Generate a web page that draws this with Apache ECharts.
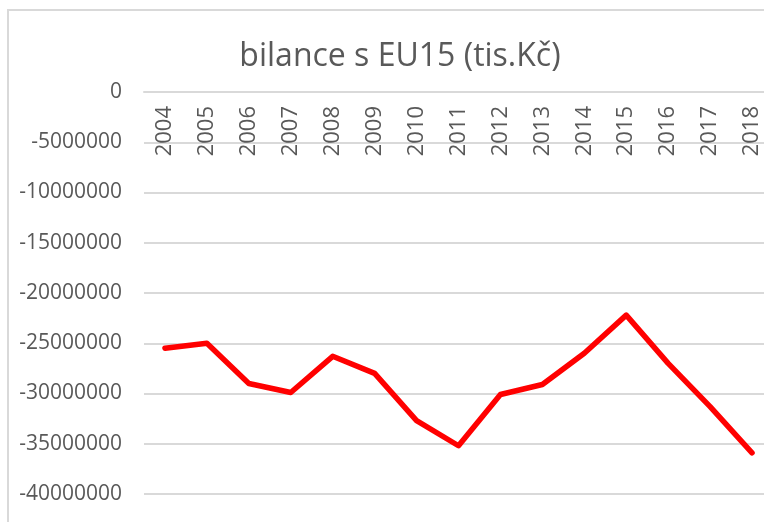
<!DOCTYPE html>
<html>
<head>
<meta charset="utf-8">
<script src="https://cdn.jsdelivr.net/npm/echarts@6/dist/echarts.min.js"></script>
<style>
  html, body { margin: 0; padding: 0; background: #fff; }
  #chart_main { width: 764px; height: 522px; }
</style>
</head>
<body>
<div id="chart_main"></div>
<script type="text/javascript">
// roky a bilance (tis. Kč)
var years = ['2004','2005','2006','2007','2008','2009','2010','2011','2012','2013','2014','2015','2016','2017','2018'];
var balance = [-25500000,-25000000,-29000000,-29900000,-26300000,-28000000,-32700000,-35200000,-30100000,-29100000,-26000000,-22200000,-27000000,-31300000,-35900000];
var yTicks = { min: -40000000, max: 0, step: 5000000 };

var myChart = echarts.init(document.getElementById('chart_main'));
var font = '"Open Sans", sans-serif';
var option = {
    animation: false,
    graphic: [{
        type: 'rect',
        shape: { x: 8, y: 10, width: 820, height: 600 },
        style: { fill: 'none', stroke: '#d9d9d9', lineWidth: 2 },
        silent: true
    }],
    title: {
        text: 'bilance s EU15 (tis.Kč)',
        left: 395,
        textAlign: 'center',
        top: 36,
        textStyle: { color: '#595959', fontSize: 32, fontWeight: 'normal', fontFamily: font }
    },
    grid: { left: 144, right: -9, top: 92, bottom: 28, containLabel: false, outerBoundsMode: 'none' },
    xAxis: {
        type: 'category',
        data: years,
        position: 'top',
        boundaryGap: true,
        axisLine: { lineStyle: { color: '#d9d9d9', width: 2 } },
        axisTick: { show: false },
        axisLabel: { inside: true, rotate: 90, margin: 14, color: '#595959', fontSize: 22, fontFamily: font, interval: 0 }
    },
    yAxis: {
        type: 'value',
        min: yTicks.min,
        max: yTicks.max,
        interval: yTicks.step,
        axisLine: { show: false },
        axisTick: { show: false },
        splitLine: { lineStyle: { color: '#d9d9d9', width: 2 } },
        axisLabel: {
            margin: 22, color: '#595959', fontSize: 21, fontFamily: font,
            formatter: function (v) { return String(v); }
        }
    },
    series: [{
        name: 'bilance',
        type: 'line',
        data: balance,
        symbol: 'none',
        lineStyle: { color: '#ff0000', width: 5.5, join: 'round', cap: 'round' }
    }]
};
myChart.setOption(option);
</script>
</body>
</html>
